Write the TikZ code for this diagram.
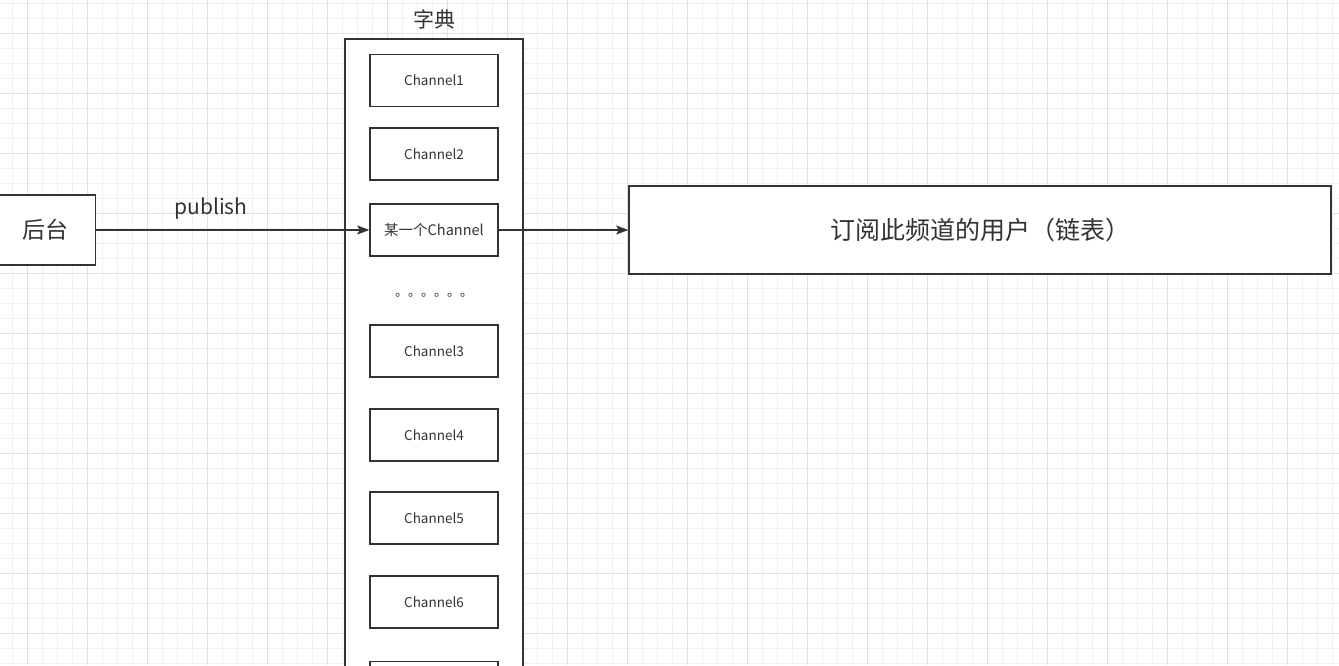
\documentclass[tikz,border=0pt]{standalone}
\usepackage{fontspec}
\setmainfont{Noto Sans CJK SC}
\usetikzlibrary{arrows.meta}
\definecolor{ink}{HTML}{333333}
\definecolor{gridminor}{HTML}{F0F0F0}
\definecolor{gridmajor}{HTML}{E0E0E0}
\tikzset{
  box/.style={draw=ink, line width=1.5pt, fill=white, inner sep=0pt, text=ink},
  chan/.style={box, minimum width=128pt, minimum height=52pt, font=\fontsize{13.5}{16}\selectfont},
  conn/.style={draw=ink, line width=1.5pt, -{Stealth[length=12pt,width=9pt,inset=2.5pt]}},
  lbl/.style={text=ink, inner sep=0pt}
}
\begin{document}
\begin{tikzpicture}[x=1pt,y=-1pt]
\useasboundingbox (0,0) rectangle (1339,665);
\clip (0,0) rectangle (1339,665);
\fill[white] (0,0) rectangle (1339,665);
\foreach \i in {0,...,88} \draw[gridminor, line width=1pt] ({12.5+15*\i},0) -- ({12.5+15*\i},665);
\foreach \j in {0,...,44} \draw[gridminor, line width=1pt] (0,{3.5+15*\j}) -- (1339,{3.5+15*\j});
\foreach \i in {0,...,22} \draw[gridmajor, line width=1pt] ({27.5+60*\i},0) -- ({27.5+60*\i},665);
\foreach \j in {0,...,10} \draw[gridmajor, line width=1pt] (0,{33.5+60*\j}) -- (1339,{33.5+60*\j});

\node[box, minimum width=99pt, minimum height=70pt, font=\fontsize{23}{26}\selectfont] (back) at (46,230) {后台};
\node[lbl, font=\fontsize{21}{24}\selectfont] (publbl) at (211,209) {publish};

\node[box, minimum width=178pt, minimum height=700pt] (dict) at (434,389) {};
\node[lbl, font=\fontsize{21}{24}\selectfont] (dictlbl) at (434,19) {字典};

\node[chan] (ch1) at (434,80.5) {Channel1};
\node[chan] (ch2) at (434,154) {Channel2};
\node[chan, font=\fontsize{14.5}{16}\selectfont] (chsel) at (434,230) {某一个Channel};
\node[lbl, font=\fontsize{13}{15}\selectfont, anchor=base] (dots) at (434,296) {。。。。。。};
\node[chan] (ch3) at (434,351) {Channel3};
\node[chan] (ch4) at (434,435) {Channel4};
\node[chan] (ch5) at (434,518) {Channel5};
\node[chan] (ch6) at (434,602) {Channel6};
\node[chan] (ch7) at (434,687.5) {};

\node[box, minimum width=702pt, minimum height=88pt, font=\fontsize{25}{30}\selectfont] (users) at (980,230) {订阅此频道的用户（链表）};

\draw[conn] (back.east) -- (chsel.west);
\draw[conn] (chsel.east) -- (users.west);
\end{tikzpicture}
\end{document}
